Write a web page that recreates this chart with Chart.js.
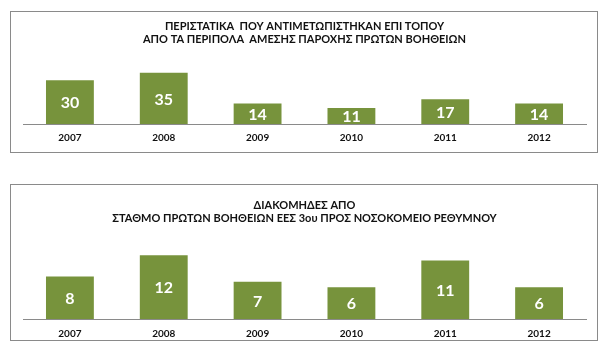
<!DOCTYPE html>
<html>
<head>
<meta charset="utf-8">
<script src="https://cdn.jsdelivr.net/npm/chart.js@4.4.1/dist/chart.umd.min.js"></script>
<style>
  html, body { margin: 0; padding: 0; background: #fff; }
  body { width: 603px; height: 353px; position: relative; overflow: hidden; }
  .box { position: absolute; border: 1px solid #8a8a8a; box-sizing: border-box; }
  canvas { position: absolute; }
</style>
</head>
<body>
<div class="box" style="left:10px; top:11px; width:588px; height:142px;"></div>
<div class="box" style="left:10px; top:184px; width:588px; height:157px;"></div>
<canvas id="c1" width="585" height="140" style="left:11px; top:12px;"></canvas>
<canvas id="c2" width="585" height="164" style="left:11px; top:185px;"></canvas>
<script>
const years = ['2007', '2008', '2009', '2010', '2011', '2012'];
const incidentsOnSite = [30, 35, 14, 11, 17, 14];
const transfersToHospital = [8, 12, 7, 6, 11, 6];
const title1 = ['ΠΕΡΙΣΤΑΤΙΚΑ  ΠΟΥ ΑΝΤΙΜΕΤΩΠΙΣΤΗΚΑΝ ΕΠΙ ΤΟΠΟΥ', 'ΑΠΟ ΤΑ ΠΕΡΙΠΟΛΑ  ΑΜΕΣΗΣ ΠΑΡΟΧΗΣ ΠΡΩΤΩΝ ΒΟΗΘΕΙΩΝ'];
const title2 = ['ΔΙΑΚΟΜΗΔΕΣ ΑΠΟ', 'ΣΤΑΘΜΟ ΠΡΩΤΩΝ ΒΟΗΘΕΙΩΝ ΕΕΣ 3ου ΠΡΟΣ ΝΟΣΟΚΟΜΕΙΟ ΡΕΘΥΜΝΟΥ'];

const FONT = "Lato, 'Liberation Sans', sans-serif";
const BAR_COLOR = '#77933C';

const valueLabels = {
  id: 'valueLabels',
  afterDatasetsDraw(chart) {
    const ctx = chart.ctx;
    const meta = chart.getDatasetMeta(0);
    const data = chart.data.datasets[0].data;
    ctx.save();
    ctx.fillStyle = '#ffffff';
    ctx.font = "bold 16px " + FONT;
    ctx.textAlign = 'center';
    ctx.textBaseline = 'middle';
    meta.data.forEach((el, i) => {
      ctx.fillText(String(data[i]), el.x, (el.y + el.base) / 2 + 1);
    });
    ctx.restore();
  }
};

function makeChart(id, values, title, yMax, titlePad, tickPad, bottomPad) {
  return new Chart(document.getElementById(id), {
    type: 'bar',
    data: {
      labels: years,
      datasets: [{
        data: values,
        backgroundColor: BAR_COLOR,
        borderWidth: 0,
        categoryPercentage: 1,
        barPercentage: 0.51
      }]
    },
    options: {
      responsive: false,
      animation: false,
      devicePixelRatio: 1,
      layout: { padding: { left: 12, right: 10, top: 0, bottom: bottomPad } },
      plugins: {
        legend: { display: false },
        tooltip: { enabled: false },
        title: {
          display: true,
          text: title,
          color: '#111111',
          font: { family: FONT, size: 11, weight: 'bold', lineHeight: 13 / 11 },
          padding: titlePad
        }
      },
      scales: {
        x: {
          grid: { display: false, drawTicks: false },
          border: { display: true, color: '#8a8a8a', width: 1 },
          ticks: {
            color: '#111111',
            font: { family: FONT, size: 10, weight: 'bold', lineHeight: 1.2 },
            padding: tickPad,
            maxRotation: 0,
            autoSkip: false
          }
        },
        y: {
          display: false,
          min: 0,
          max: yMax
        }
      }
    },
    plugins: [valueLabels]
  });
}

makeChart('c1', incidentsOnSite, title1, 40, { top: 7.5, bottom: 20 }, 8, 0);
makeChart('c2', transfersToHospital, title2, 16, { top: 14, bottom: 9 }, 9, 0);
</script>
</body>
</html>
